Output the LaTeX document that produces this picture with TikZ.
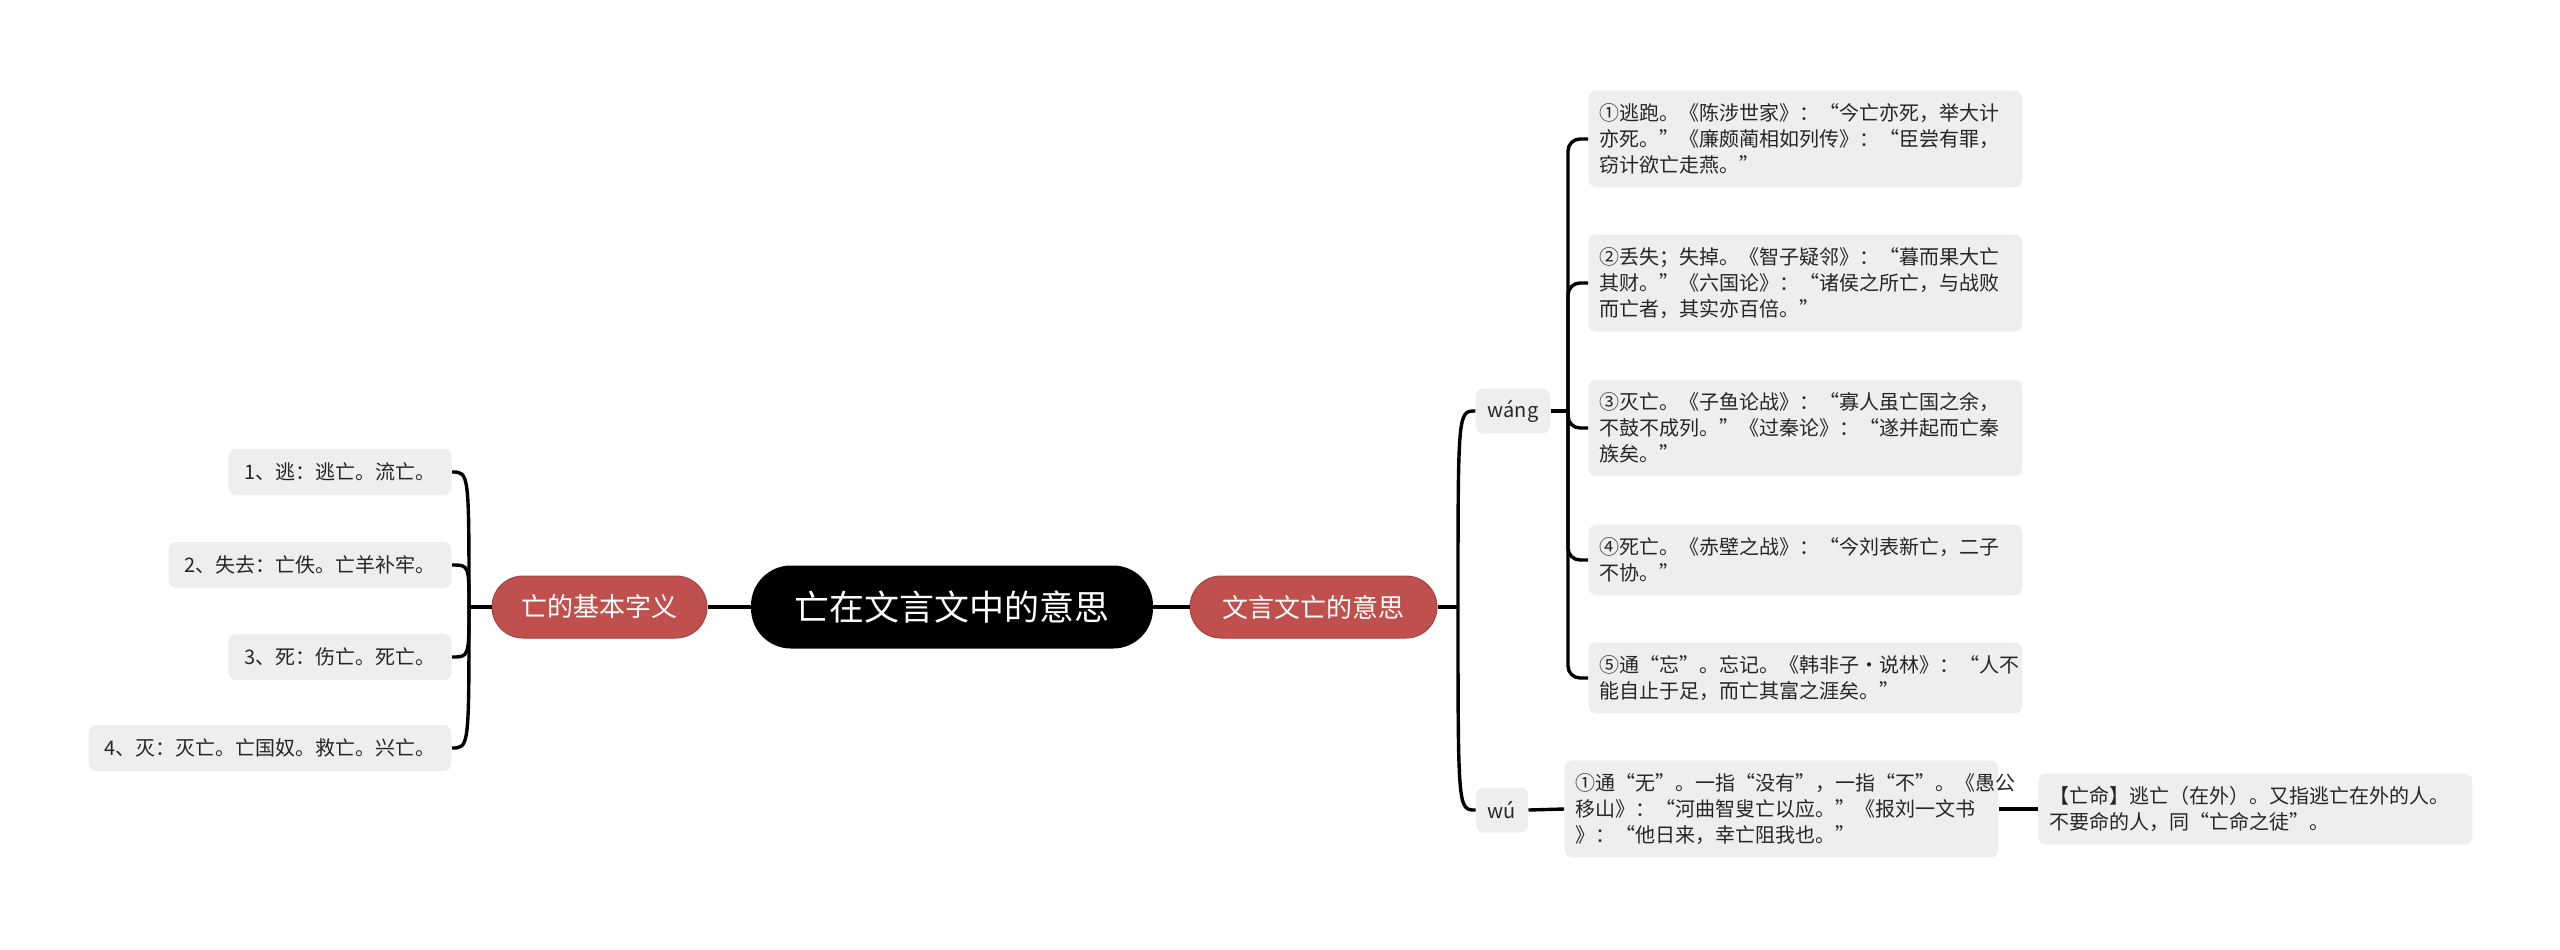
\documentclass[tikz,border=0pt]{standalone}
\usepackage{fontspec}
\setmainfont{Noto Sans CJK SC}
\definecolor{secred}{HTML}{C0504D}
\definecolor{leafgray}{HTML}{EEEEEE}
\definecolor{txt}{HTML}{262626}
\begin{document}
\begin{tikzpicture}[x=0.5pt,y=-0.5pt,
  rootnode/.style={fill=black, text=white, rounded corners=20pt, minimum width=201pt, minimum height=41.5pt, inner sep=0pt, font=\fontsize{17.5}{21}\selectfont},
  secnode/.style={fill=secred, draw=secred!85!black, line width=0.5pt, text=white, rounded corners=15.5pt, minimum height=31pt, inner sep=0pt, font=\fontsize{13}{16}\selectfont},
  leafL/.style={fill=leafgray, text=txt, rounded corners=4pt, minimum height=23pt, inner xsep=8pt, inner ysep=0pt, anchor=east, font=\fontsize{10}{13}\selectfont},
  leafR/.style={fill=leafgray, text=txt, rounded corners=4pt, text width=206pt, inner xsep=5.5pt, inner ysep=6.5pt, align=left, anchor=west, font=\fontsize{10}{13}\selectfont},
  pinnode/.style={fill=leafgray, text=txt, rounded corners=4pt, minimum height=22.5pt, inner xsep=6pt, inner ysep=0pt, font=\fontsize{10}{13}\selectfont},
  conn/.style={draw=black, line width=1.7pt}]
\useasboundingbox (0,0) rectangle (2560,949);

% central and main branches
\node[rootnode] (root) at (952,607) {亡在文言文中的意思};
\node[secnode, minimum width=107.5pt] (L) at (599.5,607) {亡的基本字义};
\node[secnode, minimum width=123.5pt] (R) at (1313.5,607) {文言文亡的意思};

% left leaves
\node[leafL] (l1) at (452,472) {1、逃：逃亡。流亡。};
\node[leafL] (l2) at (452,565) {2、失去：亡佚。亡羊补牢。};
\node[leafL] (l3) at (452,657) {3、死：伤亡。死亡。};
\node[leafL] (l4) at (452,748) {4、灭：灭亡。亡国奴。救亡。兴亡。};

% pinyin nodes
\node[pinnode] (wang) at (1513,411) {wáng};
\node[pinnode] (wu) at (1502,810) {wú};

% right leaves (wáng)
\node[leafR] (r1) at (1588,139) {①逃跑。《陈涉世家》：“今亡亦死，举大计\\亦死。”《廉颇蔺相如列传》：“臣尝有罪，\\窃计欲亡走燕。”};
\node[leafR] (r2) at (1588,283) {②丢失；失掉。《智子疑邻》：“暮而果大亡\\其财。”《六国论》：“诸侯之所亡，与战败\\而亡者，其实亦百倍。”};
\node[leafR] (r3) at (1588,428) {③灭亡。《子鱼论战》：“寡人虽亡国之余，\\不鼓不成列。”《过秦论》：“遂并起而亡秦\\族矣。”};
\node[leafR] (r4) at (1588,560) {④死亡。《赤壁之战》：“今刘表新亡，二子\\不协。”};
\node[leafR] (r5) at (1588,678) {⑤通“忘”。忘记。《韩非子·说林》：“人不\\能自止于足，而亡其富之涯矣。”};

% wú leaves
\node[leafR] (w1) at (1564,809) {①通“无”。一指“没有”，一指“不”。《愚公\\移山》：“河曲智叟亡以应。”《报刘一文书\\》：“他日来，幸亡阻我也。”};
\node[leafR] (f1) at (2038,809) {【亡命】逃亡（在外）。又指逃亡在外的人。\\不要命的人，同“亡命之徒”。};

% junctions
\coordinate (jL) at (469,607);
\coordinate (jR) at (1458,607);
\coordinate (jW) at (1568,411);

% connectors
\draw[conn] (root.west) -- (L.east);
\draw[conn] (root.east) -- (R.west);
\draw[conn] (L.west) -- (jL);
\foreach \n in {l1,l2,l3,l4}
  \draw[conn] (jL) .. controls (jL |- \n.east) and (jL |- \n.east) .. (\n.east);
\draw[conn] (R.east) -- (jR);
\foreach \n in {wang,wu}
  \draw[conn] (jR) .. controls (jR |- \n.west) and (jR |- \n.west) .. (\n.west);
\draw[conn] (wang.east) -- (jW);
\foreach \n in {r1,r2,r3,r4,r5}
  \draw[conn, rounded corners=6pt] (jW) |- (\n.west);
\draw[conn] (wu.east) -- (w1.west);
\draw[conn] (w1.east) -- (f1.west);
\end{tikzpicture}
\end{document}
